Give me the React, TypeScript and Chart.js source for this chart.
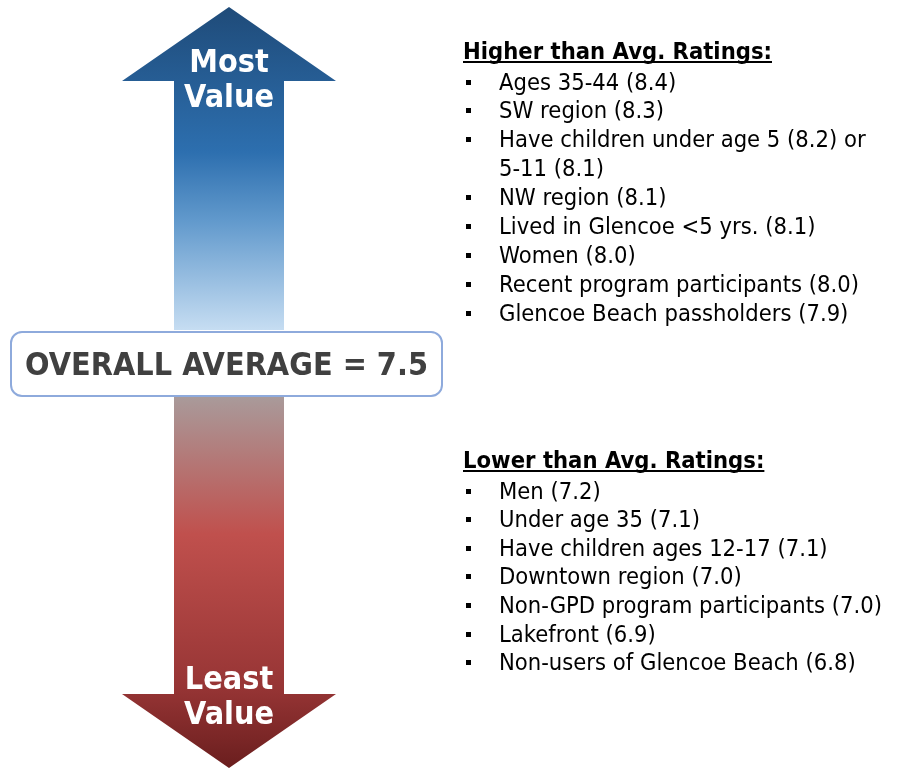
import React, { useEffect, useRef } from "react";
import { Chart, registerables } from "chart.js";

Chart.register(...registerables);

// ---- data ----
const overallLabel = "OVERALL AVERAGE";
const overallAverage = 7.5;
const topArrowLabel = ["Most", "Value"];
const bottomArrowLabel = ["Least", "Value"];
const higherTitle = "Higher than Avg. Ratings:";
const higherGroups = [
  "Ages 35-44",
  "SW region",
  "Have children under age 5 (8.2) or 5-11",
  "NW region",
  "Lived in Glencoe <5 yrs.",
  "Women",
  "Recent program participants",
  "Glencoe Beach passholders",
];
const higherRatings = [8.4, 8.3, 8.1, 8.1, 8.1, 8.0, 8.0, 7.9];
const lowerTitle = "Lower than Avg. Ratings:";
const lowerGroups = [
  "Men",
  "Under age 35",
  "Have children ages 12-17",
  "Downtown region",
  "Non-GPD program participants",
  "Lakefront",
  "Non-users of Glencoe Beach",
];
const lowerRatings = [7.2, 7.1, 7.1, 7.0, 7.0, 6.9, 6.8];

const FONT = '"DejaVu Sans", Verdana, sans-serif';

const infographicPlugin = {
  id: "infographic",
  afterDraw(chart: any) {
    const ctx: CanvasRenderingContext2D = chart.ctx;
    const sx = chart.scales.x;
    const sy = chart.scales.y;
    const X = (v: number) => sx.getPixelForValue(v);
    const Y = (v: number) => sy.getPixelForValue(v);

    const poly = (pts: number[][], fill: CanvasGradient | string) => {
      ctx.beginPath();
      pts.forEach(([px, py], i) => (i === 0 ? ctx.moveTo(X(px), Y(py)) : ctx.lineTo(X(px), Y(py))));
      ctx.closePath();
      ctx.fillStyle = fill;
      ctx.fill();
    };

    ctx.save();
    // upper arrow
    const g1 = ctx.createLinearGradient(0, Y(7), 0, Y(330));
    g1.addColorStop(0, "#1f4b79");
    g1.addColorStop(0.45, "#2d6faf");
    g1.addColorStop(0.66, "#6199cc");
    g1.addColorStop(1, "#c6ddf2");
    poly(
      [[229, 7], [336, 81], [284, 81], [284, 330], [174, 330], [174, 81], [122, 81]],
      g1
    );
    // lower arrow
    const g2 = ctx.createLinearGradient(0, Y(397), 0, Y(768));
    g2.addColorStop(0, "#a99a9a");
    g2.addColorStop(0.37, "#c0504d");
    g2.addColorStop(0.78, "#973535");
    g2.addColorStop(1, "#6a1e1e");
    poly(
      [[174, 397], [284, 397], [284, 694], [336, 694], [229, 768], [122, 694], [174, 694]],
      g2
    );

    // box
    ctx.beginPath();
    (ctx as any).roundRect(X(11), Y(332), X(442) - X(11), Y(396) - Y(332), 11);
    ctx.fillStyle = "#ffffff";
    ctx.fill();
    ctx.lineWidth = 2;
    ctx.strokeStyle = "#8eaadc";
    ctx.stroke();

    const scaleFor = (font: string, ref: string, target: number) => {
      ctx.font = font;
      return target / ctx.measureText(ref).width;
    };
    const drawText = (text: string, x: number, y: number, font: string, k: number, align: CanvasTextAlign, color: string) => {
      ctx.save();
      ctx.font = font;
      ctx.fillStyle = color;
      ctx.textAlign = align;
      ctx.textBaseline = "alphabetic";
      ctx.translate(X(x), Y(y));
      ctx.scale(k, 1);
      ctx.fillText(text, 0, 0);
      ctx.restore();
    };

    // big bold text
    const bigFont = `bold 31.5px ${FONT}`;
    const overallText = `${overallLabel} = ${overallAverage.toFixed(1)}`;
    const kBig = scaleFor(bigFont, overallText, 403);
    drawText(overallText, 226.5, 375, bigFont, kBig, "center", "#404040");
    drawText(topArrowLabel[0], 229, 72, bigFont, kBig, "center", "#ffffff");
    drawText(topArrowLabel[1], 229, 107, bigFont, kBig, "center", "#ffffff");
    drawText(bottomArrowLabel[0], 229, 689, bigFont, kBig, "center", "#ffffff");
    drawText(bottomArrowLabel[1], 229, 724, bigFont, kBig, "center", "#ffffff");

    // lists
    const headFont = `bold 23.5px ${FONT}`;
    const kHead = scaleFor(headFont, higherTitle, 309);
    const itemFont = `23.5px ${FONT}`;
    const kItem = scaleFor(itemFont, "Non-GPD program participants (7.0)", 383);
    const maxW = 392;

    const drawList = (title: string, groups: string[], ratings: number[], headBase: number, lineH: number) => {
      drawText(title, 463, headBase, headFont, kHead, "left", "#000000");
      ctx.font = headFont;
      const tw = ctx.measureText(title).width * kHead;
      ctx.fillStyle = "#000000";
      ctx.fillRect(X(463), Y(headBase + 2), tw, 2);
      let base = headBase + 30.5;
      groups.forEach((g, i) => {
        const full = `${g} (${ratings[i].toFixed(1)})`;
        ctx.fillStyle = "#000000";
        ctx.fillRect(X(466), Y(Math.round(base) - 10), 5, 5);
        ctx.font = itemFont;
        const words = full.split(" ");
        const lines: string[] = [];
        let cur = "";
        words.forEach((w) => {
          const test = cur ? cur + " " + w : w;
          if (ctx.measureText(test).width * kItem > maxW && cur) {
            lines.push(cur);
            cur = w;
          } else cur = test;
        });
        if (cur) lines.push(cur);
        lines.forEach((ln) => {
          drawText(ln, 499, Math.round(base), itemFont, kItem, "left", "#000000");
          base += lineH;
        });
      });
    };
    drawList(higherTitle, higherGroups, higherRatings, 59, 28.9);
    drawList(lowerTitle, lowerGroups, lowerRatings, 468, 28.6);
    ctx.restore();
  },
};

export default function App() {
  const ref = useRef<HTMLCanvasElement>(null);
  useEffect(() => {
    document.body.style.margin = "0";
    const canvas = ref.current!;
    const chart = new Chart(canvas, {
      type: "scatter",
      data: { datasets: [] },
      options: {
        responsive: false,
        animation: false,
        devicePixelRatio: 1,
        layout: { padding: 0 },
        plugins: { legend: { display: false }, tooltip: { enabled: false } },
        scales: {
          x: { type: "linear", min: 0, max: 899, display: false },
          y: { type: "linear", min: 0, max: 769, reverse: true, display: false },
        },
      },
      plugins: [infographicPlugin],
    } as any);
    return () => chart.destroy();
  }, []);
  return <canvas ref={ref} width={899} height={769} style={{ display: "block" }} />;
}
